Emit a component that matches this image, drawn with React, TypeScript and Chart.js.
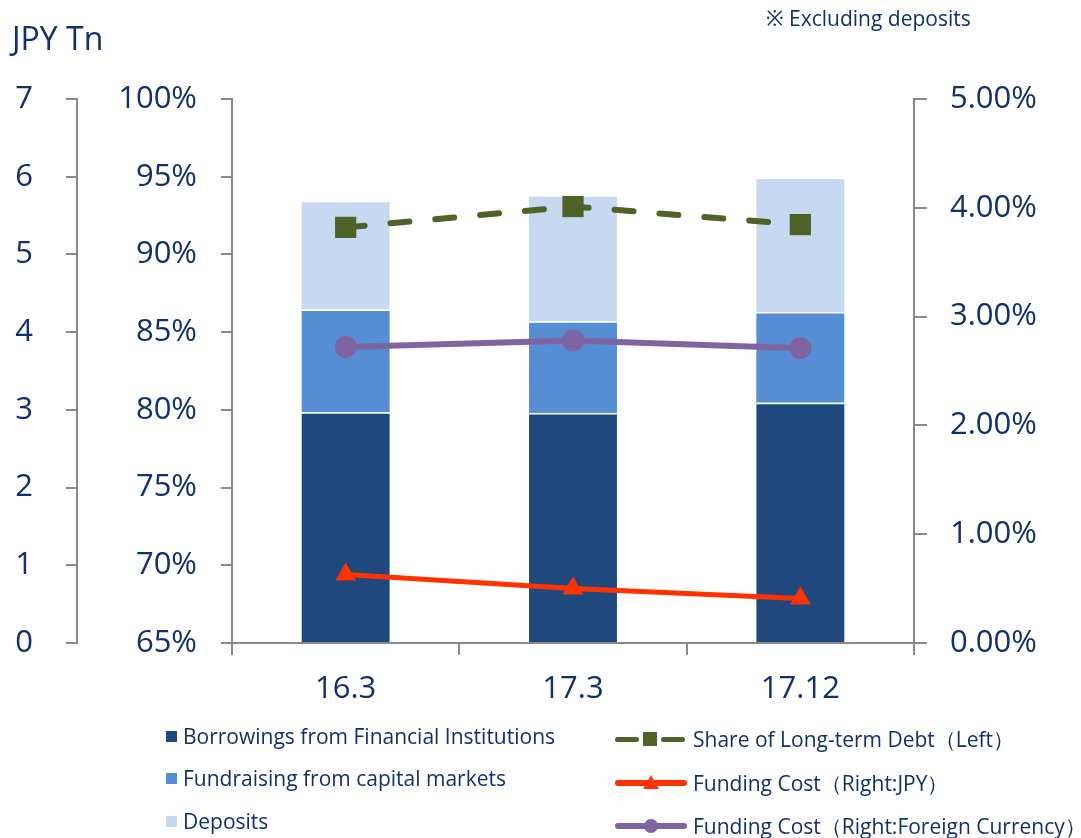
import React, { useEffect, useRef } from "react";
import { Chart, registerables } from "chart.js";
Chart.register(...registerables);

const categories = ["16.3", "17.3", "17.12"];
const borrowings = [2.97, 2.96, 3.09];
const capitalMarkets = [1.32, 1.18, 1.17];
const deposits = [1.4, 1.62, 1.73];
const longTermShare = [91.74, 93.08, 91.92];
const costJPY = [0.63, 0.5, 0.41];
const costForeign = [2.72, 2.78, 2.71];

const TEXT = "#12306A";
const AXIS = "#898989";
const FONT = "'Open Sans', 'Noto Sans', sans-serif";
const C_DARK = "#1F497D";
const C_MID = "#558ED5";
const C_LIGHT = "#C6D9F1";
const C_GREEN = "#4F6228";
const C_RED = "#FF3300";
const C_PURPLE = "#8064A2";

export default function App() {
  const ref = useRef<HTMLCanvasElement | null>(null);
  useEffect(() => {
    document.body.style.margin = "0";
    const canvas = ref.current;
    if (!canvas) return;
    const tickFont = { family: FONT, size: 31 };
    const chart = new Chart(canvas, {
      type: "bar",
      data: {
        labels: categories,
        datasets: [
          {
            type: "line",
            label: "Share of Long-term Debt（Left）",
            data: longTermShare,
            yAxisID: "yPct",
            borderColor: C_GREEN,
            backgroundColor: C_GREEN,
            borderWidth: 6,
            borderDash: [19, 26],
            borderCapStyle: "round",
            pointStyle: "rect",
            pointRadius: 15,
            pointBorderWidth: 0,
            order: 0,
          },
          {
            type: "line",
            label: "Funding Cost（Right:JPY）",
            data: costJPY,
            yAxisID: "yRight",
            borderColor: C_RED,
            backgroundColor: C_RED,
            borderWidth: 5,
            pointStyle: "triangle",
            pointRadius: 12,
            pointBorderWidth: 0,
            order: 0,
          },
          {
            type: "line",
            label: "Funding Cost（Right:Foreign Currency）",
            data: costForeign,
            yAxisID: "yRight",
            borderColor: C_PURPLE,
            backgroundColor: C_PURPLE,
            borderWidth: 6,
            pointStyle: "circle",
            pointRadius: 11,
            pointBorderWidth: 0,
            order: 0,
          },
          {
            type: "bar",
            label: "Borrowings from Financial Institutions",
            data: borrowings,
            yAxisID: "yJPY",
            backgroundColor: C_DARK,
            borderColor: "#FFFFFF",
            borderWidth: 1.5,
            barPercentage: 0.4,
            categoryPercentage: 1,
            order: 1,
          },
          {
            type: "bar",
            label: "Fundraising from capital markets",
            data: capitalMarkets,
            yAxisID: "yJPY",
            backgroundColor: C_MID,
            borderColor: "#FFFFFF",
            borderWidth: 1.5,
            barPercentage: 0.4,
            categoryPercentage: 1,
            order: 1,
          },
          {
            type: "bar",
            label: "Deposits",
            data: deposits,
            yAxisID: "yJPY",
            backgroundColor: C_LIGHT,
            borderColor: "#FFFFFF",
            borderWidth: 1.5,
            barPercentage: 0.4,
            categoryPercentage: 1,
            order: 1,
          },
        ],
      },
      options: {
        responsive: false,
        animation: false,
        layout: { padding: { top: 99, bottom: 125, left: 0, right: 0 } },
        plugins: { legend: { display: false }, tooltip: { enabled: false } },
        scales: {
          x: {
            stacked: true,
            offset: true,
            grid: {
              offset: true,
              drawOnChartArea: false,
              drawTicks: true,
              tickLength: 12,
              color: AXIS,
              lineWidth: 2,
            },
            border: { color: AXIS, width: 2 },
            ticks: { color: TEXT, font: tickFont, padding: 16 },
            afterFit: (s: any) => {
              s.height = 70;
            },
          },
          yJPY: {
            type: "linear",
            position: "left",
            weight: 2,
            stacked: true,
            min: 0,
            max: 7,
            ticks: { stepSize: 1, color: TEXT, font: tickFont, padding: 33 },
            grid: {
              drawOnChartArea: false,
              tickLength: 11,
              color: AXIS,
              lineWidth: 2,
            },
            border: { color: AXIS, width: 2 },
            afterFit: (s: any) => {
              s.width = 77;
            },
          },
          yPct: {
            type: "linear",
            position: "left",
            weight: 1,
            min: 65,
            max: 100,
            ticks: {
              stepSize: 5,
              color: TEXT,
              font: tickFont,
              padding: 24,
              callback: (v: any) => v + "%",
            },
            grid: {
              drawOnChartArea: false,
              tickLength: 11,
              color: AXIS,
              lineWidth: 2,
            },
            border: { color: AXIS, width: 2 },
            afterFit: (s: any) => {
              s.width = 155;
            },
          },
          yRight: {
            type: "linear",
            position: "right",
            min: 0,
            max: 5,
            ticks: {
              stepSize: 1,
              color: TEXT,
              font: tickFont,
              padding: 23,
              callback: (v: any) => Number(v).toFixed(2) + "%",
            },
            grid: {
              drawOnChartArea: false,
              tickLength: 13,
              color: AXIS,
              lineWidth: 2,
            },
            border: { color: AXIS, width: 2 },
            afterFit: (s: any) => {
              s.width = 167;
            },
          },
        },
      },
    } as any);
    return () => chart.destroy();
  }, []);

  const txt: React.CSSProperties = {
    position: "absolute",
    fontFamily: FONT,
    color: TEXT,
    whiteSpace: "nowrap",
    lineHeight: "1",
  };
  const legendFont = 21;

  const leftItems = [
    { label: "Borrowings from Financial Institutions", color: C_DARK, y: 736 },
    { label: "Fundraising from capital markets", color: C_MID, y: 778 },
    { label: "Deposits", color: C_LIGHT, y: 821 },
  ];

  return (
    <div style={{ position: "absolute", left: 0, top: 0, width: 1081, height: 838, background: "#fff" }}>
      <canvas ref={ref} width={1081} height={838} style={{ position: "absolute", left: 0, top: 0, width: 1081, height: 838 }} />
      <div style={{ ...txt, left: 12, top: 38 - 16, fontSize: 32, height: 32, display: "flex", alignItems: "center" }}>JPY Tn</div>
      <div style={{ ...txt, left: 766, top: 18 - 12, fontSize: 21, height: 24, display: "flex", alignItems: "center" }}>※ Excluding deposits</div>
      {leftItems.map((it) => (
        <React.Fragment key={it.label}>
          <div style={{ position: "absolute", left: 166, top: it.y - 5.5, width: 11, height: 11, background: it.color }} />
          <div style={{ ...txt, left: 183, top: it.y - 12, height: 24, fontSize: legendFont, display: "flex", alignItems: "center" }}>{it.label}</div>
        </React.Fragment>
      ))}
      {/* Share of Long-term Debt */}
      <div style={{ position: "absolute", left: 615, top: 739 - 2.5, width: 24, height: 5, borderRadius: 3, background: C_GREEN }} />
      <div style={{ position: "absolute", left: 643, top: 739 - 7, width: 14, height: 14, background: C_GREEN }} />
      <div style={{ position: "absolute", left: 661, top: 739 - 2.5, width: 24, height: 5, borderRadius: 3, background: C_GREEN }} />
      <div style={{ ...txt, left: 693, top: 739 - 12, height: 24, fontSize: legendFont, display: "flex", alignItems: "center" }}>Share of Long-term Debt（Left）</div>
      {/* Funding Cost JPY */}
      <div style={{ position: "absolute", left: 615, top: 783 - 3, width: 72, height: 6, borderRadius: 3, background: C_RED }} />
      <div style={{ position: "absolute", left: 651 - 8, top: 783 - 8, width: 0, height: 0, borderLeft: "8px solid transparent", borderRight: "8px solid transparent", borderBottom: `14px solid ${C_RED}` }} />
      <div style={{ ...txt, left: 693, top: 783 - 12, height: 24, fontSize: legendFont, display: "flex", alignItems: "center" }}>Funding Cost（Right:JPY）</div>
      {/* Funding Cost Foreign */}
      <div style={{ position: "absolute", left: 615, top: 826 - 3, width: 72, height: 6, borderRadius: 3, background: C_PURPLE }} />
      <div style={{ position: "absolute", left: 651 - 7, top: 826 - 7, width: 14, height: 14, borderRadius: 7, background: C_PURPLE }} />
      <div style={{ ...txt, left: 693, top: 826 - 12, height: 24, fontSize: legendFont, display: "flex", alignItems: "center" }}>Funding Cost（Right:Foreign Currency）</div>
    </div>
  );
}
